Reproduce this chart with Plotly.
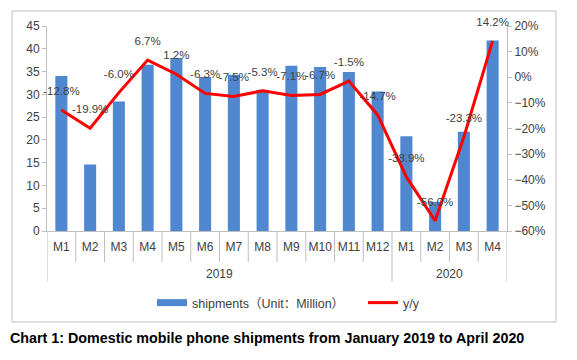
import plotly.graph_objects as go

years = ["2019"] * 12 + ["2020"] * 4
months = ["M1", "M2", "M3", "M4", "M5", "M6", "M7", "M8", "M9", "M10", "M11", "M12",
          "M1", "M2", "M3", "M4"]
year_labels = ["2019", "2020"]
shipments = [34.0, 14.6, 28.4, 36.5, 38.0, 33.8, 34.3, 31.0, 36.3, 36.0, 34.9, 30.6,
             20.8, 6.4, 21.8, 41.8]
yoy = [-12.8, -19.9, -6.0, 6.7, 1.2, -6.3, -7.5, -5.3, -7.1, -6.7, -1.5, -14.7,
       -38.9, -56.0, -23.3, 14.2]
yoy_labels = [f"{v:.1f}%" for v in yoy]

cats = [f"{y}-{m}" for y, m in zip(years, months)]

font_fam = "Liberation Sans, Arial, Noto Sans CJK SC, sans-serif"
axis_col = "#bfbfbf"
txt_col = "#404040"
bar_col = "#4f88d0"

# plot area in pixels
L, R, T, B = 47, 507, 26, 231
W, H = R - L, B - T


def py(px):
    return (B - px) / H


def pxx(px):
    return (px - L) / W


fig = go.Figure()
fig.add_trace(go.Bar(
    x=cats, y=shipments, name="shipments（Unit：Million）",
    marker=dict(color=bar_col, line=dict(width=0)), showlegend=False,
))
# legend entry with a wide flat swatch, like the reference
fig.add_trace(go.Scatter(
    x=[None], y=[None], mode="lines",
    name="shipments（Unit：Million）\u00a0\u00a0\u00a0\u00a0",
    line=dict(color=bar_col, width=7), hoverinfo="skip",
))
fig.add_trace(go.Scatter(
    x=cats, y=yoy, name="y/y", yaxis="y2", mode="lines",
    line=dict(color="#ff0000", width=3),
))
fig.add_trace(go.Scatter(
    x=cats, y=yoy, yaxis="y2", mode="markers+text", showlegend=False,
    text=yoy_labels, textposition="top center",
    textfont=dict(size=11.5, color=txt_col, family=font_fam),
    marker=dict(size=18, opacity=0), cliponaxis=False, hoverinfo="skip",
))

fig.update_layout(
    width=577, height=360,
    margin=dict(l=L, r=577 - R, t=T, b=360 - B, autoexpand=False),
    paper_bgcolor="white", plot_bgcolor="white",
    font=dict(family=font_fam, size=12, color=txt_col),
    bargap=0.58,
    showlegend=True,
    legend=dict(orientation="h", x=pxx(152), xanchor="left", y=py(303), yanchor="middle",
                font=dict(size=12.5, color=txt_col), itemwidth=30, tracegroupgap=0),
    title=dict(text="<b>Chart 1: Domestic mobile phone shipments from January 2019 to April 2020</b>",
               x=10 / 577, xanchor="left", xref="container",
               y=1 - 338 / 360, yanchor="middle", yref="container", pad=dict(l=0, r=0, t=0, b=0),
               font=dict(size=14.3, color="#000000", family="Liberation Sans, Arial, sans-serif")),
    xaxis=dict(
        type="category", categoryorder="array", categoryarray=cats,
        tickvals=cats, ticktext=months, range=[-0.5, len(cats) - 0.5],
        showline=True, linecolor=axis_col, linewidth=1, ticks="",
        tickangle=0, automargin=False, showgrid=False, ticklabelstandoff=5,
        tickfont=dict(size=12, color=txt_col),
    ),
    yaxis=dict(
        range=[0, 45], dtick=5, showline=True, linecolor=axis_col, linewidth=1,
        ticks="outside", ticklen=4, tickcolor=axis_col, showgrid=False,
        zeroline=False, tickfont=dict(size=12, color=txt_col), automargin=False,
    ),
    yaxis2=dict(
        range=[-60, 20], dtick=10, overlaying="y", side="right", ticksuffix="%",
        showline=True, linecolor=axis_col, linewidth=1, ticks="outside", ticklen=4,
        tickcolor=axis_col, showgrid=False, zeroline=False,
        tickfont=dict(size=12, color=txt_col), automargin=False,
    ),
)

# outer border
fig.add_shape(type="rect", xref="paper", yref="paper",
              x0=pxx(12), x1=pxx(556), y0=py(322), y1=py(11),
              line=dict(color="#bfbfbf", width=1), layer="below")

# separators between month labels and between year groups
n = len(cats)
for i in range(n + 1):
    xb = i - 0.5
    is_year_edge = i == 0 or i == n or years[i - 1] != years[i]
    fig.add_shape(type="line", xref="x", yref="paper", x0=xb, x1=xb,
                  y0=0, y1=py(282 if is_year_edge else 262),
                  line=dict(color=axis_col, width=1))

# year group labels
for yl in year_labels:
    idx = [i for i, y in enumerate(years) if y == yl]
    fig.add_annotation(x=(idx[0] + idx[-1]) / 2, xref="x", y=py(274), yref="paper",
                       text=yl, showarrow=False, yanchor="middle",
                       font=dict(size=12, color=txt_col))

fig.write_html("out.html", config={"displayModeBar": False},
               post_script="document.body.style.margin='0';")
